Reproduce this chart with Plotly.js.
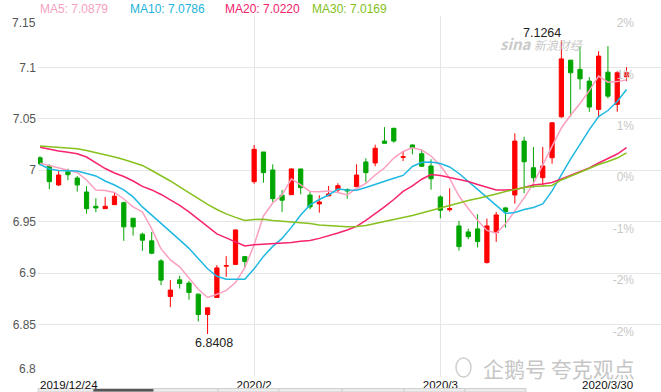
<!DOCTYPE html>
<html>
<head>
<meta charset="utf-8">
<script src="https://cdn.plot.ly/plotly-3.0.1.min.js"></script>
<style>
html,body{margin:0;padding:0;background:#fff;}
#chart{width:661px;height:392px;}
</style>
</head>
<body>
<div id="chart"></div>
<script>
// ---- data ----
const dates = [
 '2019-12-24','2019-12-25','2019-12-26','2019-12-27','2019-12-30','2019-12-31',
 '2020-01-02','2020-01-03','2020-01-06','2020-01-07','2020-01-08','2020-01-09','2020-01-10',
 '2020-01-13','2020-01-14','2020-01-15','2020-01-16','2020-01-17','2020-01-19','2020-01-20',
 '2020-01-21','2020-01-22','2020-01-23',
 '2020-02-03','2020-02-04','2020-02-05','2020-02-06','2020-02-07','2020-02-10','2020-02-11',
 '2020-02-12','2020-02-13','2020-02-14','2020-02-17','2020-02-18','2020-02-19','2020-02-20',
 '2020-02-21','2020-02-24','2020-02-25','2020-02-26','2020-02-27','2020-02-28',
 '2020-03-02','2020-03-03','2020-03-04','2020-03-05','2020-03-06','2020-03-09','2020-03-10',
 '2020-03-11','2020-03-12','2020-03-13','2020-03-16','2020-03-17','2020-03-18','2020-03-19',
 '2020-03-20','2020-03-23','2020-03-24','2020-03-25','2020-03-26','2020-03-27','2020-03-30'
];
const openPx = [
 7.0122,7.0042,6.9857,6.9986,6.9925,6.9789,6.9650,6.9627,6.9666,6.9685,6.9534,6.9379,6.9314,
 6.9119,6.8773,6.8935,6.8903,6.8796,6.8598,6.8763,6.9068,6.9085,6.9161,
 6.9889,7.0178,7.0003,6.9757,6.9763,7.0013,6.9760,6.9673,6.9751,6.9809,6.9812,6.9841,7.0081,
 7.0071,7.0284,7.0408,7.0126,7.0246,7.0161,7.0042,
 6.9741,6.9617,6.9459,6.9401,6.9430,6.9103,6.9394,6.9634,6.9760,7.0284,7.0025,6.9928,7.0122,
 7.0520,7.1071,7.0981,7.0867,7.0592,7.0954,7.0641,7.0909
];
const highPx = [
 7.0136,7.0058,7.0003,7.0016,6.9945,6.9845,6.9728,6.9741,6.9780,6.9695,6.9534,6.9394,6.9401,
 6.9136,6.8932,6.8974,6.8925,6.8802,6.8663,6.9078,6.9165,6.9425,6.9161,
 7.0246,7.0178,7.0058,6.9809,7.0019,7.0013,6.9799,6.9757,6.9848,6.9874,6.9825,7.0058,7.0117,
 7.0249,7.0420,7.0414,7.0187,7.0252,7.0204,7.0107,
 6.9757,6.9825,6.9508,6.9433,6.9573,6.9530,6.9595,6.9644,7.0359,7.0326,7.0226,7.0226,7.0469,
 7.1264,7.1071,7.1207,7.0906,7.1158,7.1207,7.0964,7.1003
];
const lowPx = [
 7.0049,6.9816,6.9848,6.9903,6.9792,6.9579,6.9592,6.9627,6.9666,6.9314,6.9365,6.9217,6.9184,
 6.8883,6.8670,6.8850,6.8741,6.8530,6.8408,6.8763,6.8964,6.9080,6.9054,
 6.9870,6.9880,6.9692,6.9595,6.9763,6.9767,6.9621,6.9588,6.9751,6.9783,6.9724,6.9841,6.9883,
 7.0039,7.0262,7.0268,7.0090,7.0155,7.0032,6.9812,
 6.9534,6.9598,6.9219,6.9330,6.9249,6.9093,6.9304,6.9443,6.9676,6.9777,6.9831,6.9848,7.0064,
 7.0511,7.0520,7.0786,7.0569,7.0511,7.0699,7.0569,7.0867
];
const closePx = [
 7.0064,6.9889,6.9954,6.9957,6.9857,6.9627,6.9634,6.9650,6.9748,6.9450,6.9450,6.9320,6.9194,
 6.8932,6.8835,6.8899,6.8812,6.8598,6.8663,6.9051,6.9074,6.9420,6.9113,
 7.0204,6.9977,6.9724,6.9709,7.0013,6.9831,6.9644,6.9692,6.9770,6.9850,6.9799,6.9954,6.9977,
 7.0214,7.0262,7.0284,7.0132,7.0219,7.0039,6.9918,
 6.9612,6.9627,6.9258,6.9355,6.9307,6.9459,6.9566,6.9598,7.0284,7.0083,6.9928,7.0042,7.0462,
 7.1083,7.0948,7.0889,7.0615,7.1110,7.0721,7.0948,7.0948
];
const ma5 = [
 7.0068,7.0047,7.0027,7.0005,6.9979,6.9906,6.9809,6.9804,6.9784,6.9721,6.9644,6.9595,6.9430,
 6.9236,6.9129,6.9061,6.8954,6.8843,6.8763,6.8794,6.8833,6.8909,6.9054,
 6.9275,6.9556,6.9682,6.9760,6.9916,6.9857,6.9794,6.9792,6.9799,6.9784,6.9760,6.9823,6.9872,
 6.9954,7.0022,7.0119,7.0183,7.0219,7.0197,7.0139,
 7.0047,6.9920,6.9750,6.9629,6.9513,6.9415,6.9388,6.9479,6.9605,6.9731,6.9872,7.0051,7.0226,
 7.0411,7.0537,7.0649,7.0775,7.0916,7.0857,7.0862,7.0879
];
const ma10 = [
 7.0058,7.0013,6.9998,6.9996,6.9993,6.9969,6.9945,6.9896,6.9857,6.9809,6.9741,6.9644,6.9566,
 6.9488,6.9406,6.9323,6.9241,6.9139,6.9042,6.8969,6.8940,6.8940,6.8940,
 6.9042,6.9163,6.9260,6.9338,6.9445,6.9566,6.9663,6.9716,6.9760,6.9818,6.9809,6.9806,6.9833,
 6.9864,6.9896,6.9922,6.9950,7.0037,7.0078,7.0081,
 7.0066,7.0032,6.9969,6.9896,6.9814,6.9736,6.9663,6.9581,6.9590,6.9619,6.9639,6.9673,6.9799,
 6.9959,7.0110,7.0252,7.0396,7.0522,7.0581,7.0668,7.0786
];
const ma20 = [
 7.0223,7.0202,7.0187,7.0175,7.0160,7.0129,7.0071,7.0017,6.9974,6.9940,6.9896,6.9843,6.9809,
 6.9765,6.9712,6.9658,6.9595,6.9522,6.9445,6.9381,6.9343,6.9304,6.9265,
 6.9275,6.9280,6.9284,6.9289,6.9299,6.9309,6.9318,6.9338,6.9362,6.9391,6.9420,6.9454,6.9513,
 6.9576,6.9644,6.9716,6.9794,6.9848,6.9913,6.9959,
 6.9950,6.9930,6.9911,6.9891,6.9862,6.9833,6.9809,6.9809,6.9814,6.9833,6.9857,6.9867,6.9882,
 6.9916,6.9950,6.9983,7.0022,7.0071,7.0115,7.0158,7.0220
];
const ma30 = [
 7.0236,7.0231,7.0224,7.0218,7.0210,7.0192,7.0173,7.0153,7.0129,7.0105,7.0076,7.0047,6.9998,
 6.9950,6.9896,6.9838,6.9780,6.9721,6.9668,6.9619,6.9576,6.9542,6.9513,
 6.9522,6.9524,6.9513,6.9505,6.9501,6.9493,6.9483,6.9469,6.9462,6.9457,6.9452,6.9454,6.9464,
 6.9483,6.9503,6.9522,6.9537,6.9561,6.9585,6.9610,
 6.9634,6.9658,6.9685,6.9707,6.9726,6.9746,6.9770,6.9794,6.9814,6.9833,6.9843,6.9848,6.9852,
 6.9906,6.9945,6.9983,7.0017,7.0056,7.0085,7.0119,7.0169
];
const maNames = ['MA5','MA10','MA20','MA30'];
const yTickVals = [6.8,6.85,6.9,6.95,7,7.05,7.1,7.15];
const yTickText = ['6.8','6.85','6.9','6.95','7','7.05','7.1','7.15'];
const pctTickVals = [6.85,6.9,6.95,7,7.05,7.1,7.15];
const pctTickText = ['-2%','-2%','-1%','0%','1%','1%','2%'];
const xTickVals = ['2020-02-03','2020-03-02'];
const xTickText = ['2020/2','2020/3'];
const firstDateLabel = '2019/12/24';
const lastDateLabel = '2020/3/30';
const watermark1 = '新浪财经';
const watermark2 = '企鹅号 夸克观点';

// ---- styling ----
const FONT = 'Liberation Sans, Arial, Helvetica, sans-serif';
const maColors = ['#fb9fc0','#1fb8e2','#f7236f','#86c11e'];
const maLabelColors = ['#f7a1c1','#1db3dd','#f2226c','#82bf1c'];
const UP = '#ff0000', DOWN = '#00a600';

// plot area in pixels (for placing decorations)
const PL = 38, PR = 661, PT = 16, PB = 376;
const px = v => (v - PL) / (PR - PL);
const py = v => (PB - v) / (PB - PT);

const maSeries = [ma5, ma10, ma20, ma30];
const traces = [{
  type: 'candlestick', x: dates, open: openPx, high: highPx, low: lowPx, close: closePx,
  increasing: {line: {color: UP, width: 1}, fillcolor: UP},
  decreasing: {line: {color: DOWN, width: 1}, fillcolor: DOWN},
  whiskerwidth: 0, hoverinfo: 'skip', showlegend: false
}];
maSeries.forEach((s, k) => traces.push({
  type: 'scatter', mode: 'lines', x: dates, y: s, name: maNames[k],
  line: {color: maColors[k], width: 1.5}, hoverinfo: 'skip', showlegend: false
}));
// empty trace so the right-hand percentage axis is created
traces.push({type: 'scatter', mode: 'lines', x: [], y: [], yaxis: 'y2', hoverinfo: 'skip', showlegend: false});

let iMax = 0, iMin = 0;
highPx.forEach((v, i) => { if (v > highPx[iMax]) iMax = i; });
lowPx.forEach((v, i) => { if (v < lowPx[iMin]) iMin = i; });

// left labels: the two end labels are nudged inward, as in the reference
const leftTickText = yTickText.map((t, i) => (i === 0 || i === yTickText.length - 1) ? '' : t);

const legendX = [38, 128, 222.5, 310];
const annotations = maSeries.map((s, k) => ({
  xref: 'paper', yref: 'paper', x: px(legendX[k]), y: py(9), xanchor: 'left', yanchor: 'middle',
  text: maNames[k] + ': ' + s[s.length - 1].toFixed(4), showarrow: false,
  font: {family: FONT, size: 12, color: maLabelColors[k]}
}));
annotations.push(
  {xref: 'paper', yref: 'paper', x: px(37.5), y: py(22.5), xanchor: 'right', yanchor: 'middle',
   text: yTickText[yTickText.length - 1], showarrow: false, font: {family: FONT, size: 12, color: '#555'}},
  {xref: 'paper', yref: 'paper', x: px(37.5), y: py(369), xanchor: 'right', yanchor: 'middle',
   text: yTickText[0], showarrow: false, font: {family: FONT, size: 12, color: '#555'}},
  {xref: 'x', yref: 'y', x: dates[iMax], y: highPx[iMax], xanchor: 'right', yanchor: 'bottom',
   xshift: 2, yshift: -2, text: highPx[iMax].toFixed(4), showarrow: false,
   font: {family: FONT, size: 12.5, color: '#222'}},
  {xref: 'x', yref: 'y', x: dates[iMin], y: lowPx[iMin], xanchor: 'center', yanchor: 'top',
   xshift: 6, yshift: 0, text: lowPx[iMin].toFixed(4), showarrow: false,
   font: {family: FONT, size: 12.5, color: '#222'}},
  {xref: 'paper', yref: 'paper', x: px(498), y: py(44), xanchor: 'left', yanchor: 'middle',
   text: '<b><i>sina</i></b> <span style="font-size:12px"><i>' + watermark1 + '</i></span>', showarrow: false,
   font: {family: 'Noto Sans CJK SC, ' + FONT, size: 15, color: '#cacaca'}},
  {xref: 'paper', yref: 'paper', x: px(481), y: py(368), xanchor: 'left', yanchor: 'middle',
   text: watermark2, showarrow: false,
   font: {family: 'Noto Sans CJK SC, sans-serif', size: 21, color: '#c6c6c6'}},
  {xref: 'paper', yref: 'paper', x: 0, y: py(385), xanchor: 'left', yanchor: 'middle',
   text: firstDateLabel, showarrow: false, font: {family: FONT, size: 11.5, color: '#111'}},
  {xref: 'paper', yref: 'paper', x: px(635), y: py(385), xanchor: 'right', yanchor: 'middle',
   text: lastDateLabel, showarrow: false, font: {family: FONT, size: 11.5, color: '#111'}}
);

// bottom scroller bar + penguin icon (page decoration)
const shapes = [];
const segEdges = [38, 93, 154, 218, 279, 342, 404, 465, 526];
for (let s = 0; s < segEdges.length - 1; s++) {
  shapes.push({type: 'rect', xref: 'paper', yref: 'paper', layer: 'above',
    x0: px(segEdges[s]), x1: px(segEdges[s + 1]), y0: py(392), y1: py(388.5),
    fillcolor: s === 1 ? '#555555' : '#ececec', line: {color: '#d0d0d0', width: 1}});
}
shapes.push({type: 'circle', xref: 'paper', yref: 'paper', layer: 'above',
  x0: px(456), x1: px(471), y0: py(377), y1: py(358), line: {color: '#cfcfcf', width: 1.5}});

const layout = {
  width: 661, height: 392,
  margin: {l: PL, r: 661 - PR, t: PT, b: 392 - PB, pad: 0},
  paper_bgcolor: '#ffffff', plot_bgcolor: '#ffffff',
  showlegend: false, boxgap: 0.35, boxgroupgap: 0.3,
  font: {family: FONT},
  xaxis: {
    type: 'category', categoryorder: 'array', categoryarray: dates,
    range: [-0.215, 66.70], tickvals: xTickVals, ticktext: xTickText,
    showgrid: true, gridcolor: '#e6e6e6', gridwidth: 1, zeroline: false, showline: false,
    ticks: '', tickfont: {family: FONT, size: 11.5, color: '#111'},
    rangeslider: {visible: false}, fixedrange: true, automargin: false
  },
  yaxis: {
    range: [6.8, 7.15], tickvals: yTickVals, ticktext: leftTickText,
    showgrid: true, gridcolor: '#e6e6e6', gridwidth: 1, zeroline: false, showline: false,
    ticks: '', ticklabelstandoff: 1, tickfont: {family: FONT, size: 12, color: '#555'},
    fixedrange: true, automargin: false
  },
  yaxis2: {
    overlaying: 'y', side: 'right', anchor: 'x', range: [6.8, 7.15],
    tickvals: pctTickVals, ticktext: pctTickText, ticklabelposition: 'inside',
    ticklabelstandoff: 24, ticklabelshift: 7,
    showgrid: false, zeroline: false, showline: false, ticks: '',
    tickfont: {family: FONT, size: 12, color: '#c8c8c8'}, fixedrange: true, automargin: false
  },
  annotations: annotations,
  shapes: shapes
};

Plotly.newPlot('chart', traces, layout, {displayModeBar: false, staticPlot: true});
</script>
</body>
</html>
